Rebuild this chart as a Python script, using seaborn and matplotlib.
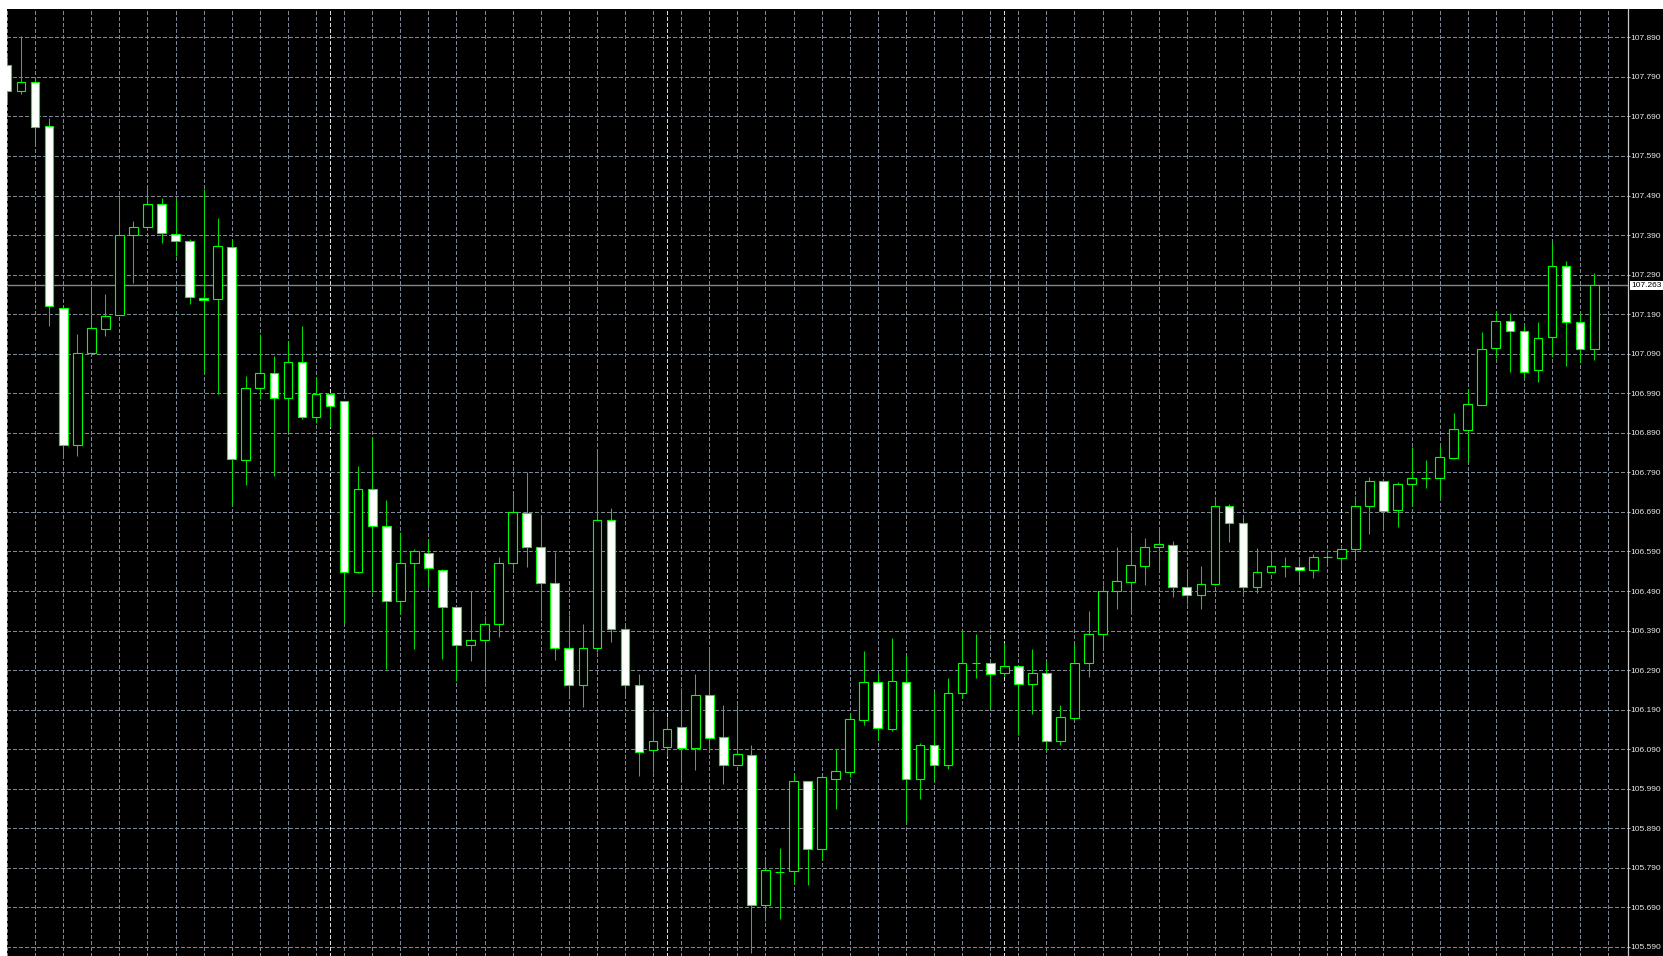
import numpy as np
import matplotlib
matplotlib.use('Agg')
import matplotlib.pyplot as plt
import matplotlib.transforms as mtransforms
import seaborn as sns

# Часовые свечи: open / high / low / close
opens = [107.819, 107.755, 107.776, 107.665, 107.206, 106.860, 107.093, 107.152, 107.189, 107.390,
         107.411, 107.468, 107.393, 107.374, 107.231, 107.228, 107.360, 106.821, 107.003, 107.040,
         106.977, 107.070, 106.929, 106.988, 106.971, 106.539, 106.749, 106.655, 106.464, 106.562,
         106.586, 106.544, 106.449, 106.354, 106.365, 106.406, 106.562, 106.688, 106.602, 106.510,
         106.345, 106.252, 106.345, 106.669, 106.393, 106.252, 106.087, 106.095, 106.147, 106.093,
         106.228, 106.120, 106.051, 106.076, 105.697, 105.780, 105.781, 106.009, 105.838, 106.015,
         106.033, 106.163, 106.259, 106.142, 106.259, 106.015, 106.100, 106.051, 106.232, 106.309,
         106.307, 106.282, 106.301, 106.255, 106.282, 106.110, 106.170, 106.309, 106.381, 106.489,
         106.513, 106.553, 106.601, 106.607, 106.499, 106.480, 106.507, 106.706, 106.662, 106.501,
         106.537, 106.553, 106.550, 106.543, 106.575, 106.573, 106.597, 106.705, 106.769, 106.696,
         106.760, 106.777, 106.777, 106.827, 106.897, 106.960, 107.105, 107.174, 107.147, 107.048,
         107.132, 107.312, 107.171, 107.102]
highs = [107.840, 107.894, 107.781, 107.686, 107.206, 107.139, 107.258, 107.240, 107.492, 107.425,
         107.511, 107.484, 107.481, 107.379, 107.507, 107.433, 107.381, 107.034, 107.139, 107.085,
         107.123, 107.161, 107.030, 106.990, 106.971, 106.807, 106.880, 106.720, 106.638, 106.596,
         106.619, 106.545, 106.449, 106.490, 106.428, 106.577, 106.736, 106.791, 106.675, 106.589,
         106.430, 106.407, 106.850, 106.700, 106.405, 106.280, 106.184, 106.172, 106.244, 106.280,
         106.344, 106.201, 106.201, 106.101, 105.812, 105.840, 106.028, 106.009, 106.019, 106.090,
         106.179, 106.339, 106.284, 106.371, 106.329, 106.107, 106.236, 106.271, 106.390, 106.382,
         106.307, 106.358, 106.301, 106.343, 106.314, 106.201, 106.355, 106.440, 106.505, 106.601,
         106.640, 106.624, 106.646, 106.617, 106.546, 106.554, 106.719, 106.711, 106.677, 106.598,
         106.586, 106.575, 106.569, 106.583, 106.594, 106.607, 106.731, 106.779, 106.772, 106.766,
         106.855, 106.821, 106.857, 106.941, 107.000, 107.146, 107.198, 107.192, 107.161, 107.171,
         107.373, 107.325, 107.192, 107.293]
lows = [107.728, 107.747, 107.623, 107.161, 106.834, 106.832, 107.093, 107.135, 107.188, 107.270,
        107.402, 107.369, 107.337, 107.215, 107.042, 106.988, 106.708, 106.758, 106.975, 106.780,
        106.891, 106.925, 106.916, 106.904, 106.408, 106.535, 106.488, 106.294, 106.433, 106.343,
        106.499, 106.318, 106.263, 106.313, 106.261, 106.373, 106.539, 106.552, 106.418, 106.316,
        106.218, 106.197, 106.337, 106.360, 106.227, 106.023, 106.033, 106.074, 106.010, 106.038,
        106.087, 106.002, 106.049, 105.575, 105.655, 105.661, 105.752, 105.747, 105.809, 105.939,
        106.021, 106.152, 106.114, 106.137, 105.907, 105.964, 106.009, 106.040, 106.219, 106.270,
        106.195, 106.274, 106.126, 106.179, 106.089, 106.100, 106.170, 106.273, 106.345, 106.444,
        106.432, 106.504, 106.543, 106.476, 106.457, 106.444, 106.505, 106.613, 106.484, 106.486,
        106.537, 106.525, 106.507, 106.522, 106.562, 106.543, 106.577, 106.633, 106.650, 106.653,
        106.705, 106.750, 106.724, 106.825, 106.817, 106.960, 107.080, 107.045, 107.030, 107.019,
        107.082, 107.059, 107.066, 107.074]
closes = [107.755, 107.776, 107.662, 107.210, 106.860, 107.093, 107.156, 107.186, 107.390, 107.411,
          107.468, 107.396, 107.374, 107.233, 107.225, 107.363, 106.824, 107.003, 107.040, 106.979,
          107.070, 106.929, 106.988, 106.959, 106.539, 106.749, 106.655, 106.464, 106.562, 106.590,
          106.548, 106.450, 106.353, 106.367, 106.406, 106.562, 106.689, 106.602, 106.510, 106.347,
          106.252, 106.345, 106.669, 106.393, 106.252, 106.084, 106.110, 106.142, 106.093, 106.228,
          106.118, 106.051, 106.077, 105.697, 105.785, 105.780, 106.009, 105.838, 106.019, 106.034,
          106.166, 106.259, 106.144, 106.262, 106.015, 106.100, 106.049, 106.232, 106.307, 106.309,
          106.281, 106.301, 106.255, 106.282, 106.110, 106.172, 106.309, 106.382, 106.490, 106.516,
          106.556, 106.601, 106.608, 106.499, 106.480, 106.508, 106.706, 106.661, 106.501, 106.537,
          106.553, 106.553, 106.543, 106.577, 106.575, 106.597, 106.706, 106.769, 106.693, 106.760,
          106.775, 106.777, 106.829, 106.899, 106.962, 107.102, 107.174, 107.147, 107.045, 107.129,
          107.312, 107.171, 107.102, 107.263]

price_levels = [105.59, 105.69, 105.79, 105.89, 105.99, 106.09, 106.19, 106.29, 106.39, 106.49,
                106.59, 106.69, 106.79, 106.89, 106.99, 107.09, 107.19, 107.29, 107.39, 107.49,
                107.59, 107.69, 107.79, 107.89]
day_breaks = [23, 47, 71, 95]
last_price = 107.263

W, H = 1663, 956

sns.set_theme(style='dark', rc={'axes.facecolor': 'black', 'figure.facecolor': 'white',
                                'lines.scale_dashes': False})
plt.rcParams['font.family'] = ['Liberation Sans', 'DejaVu Sans']

fig = plt.figure(figsize=(W / 100, H / 100), dpi=100)
# чёрный фон под графиком и шкалой цен
fig.add_artist(plt.Rectangle((7 / W, 0), 1 - 7 / W, 947 / H, transform=fig.transFigure,
                             facecolor='black', edgecolor='none', zorder=-5))
ax = fig.add_axes([7 / W, 0, 1621 / W, 947 / H])
ax.set_facecolor('black')

o = np.array(opens)
h = np.array(highs)
l = np.array(lows)
c = np.array(closes)
x = np.arange(len(o))
bull = c >= o

# тени
ax.vlines(x, l, h, color='#00dd00', linewidth=0.75, zorder=3)
# тела: рост - чёрные, падение - белые
ax.bar(x, np.abs(c - o), bottom=np.minimum(o, c), width=0.62,
       color=np.where(bull, 'black', 'white'), edgecolor='#00ff00', linewidth=0.8, zorder=4)

# линия текущей цены
ax.axhline(last_price, color='#7d858d', linewidth=1.0, zorder=2)

# сетка
dash = (0, (2.2, 1.5))
ax.set_xticks(np.arange(0, 116, 2))
ax.set_yticks(price_levels)
ax.grid(True, color='#7c8894', linestyle=dash, linewidth=0.72, antialiased=False)
for b in day_breaks:
    ax.axvline(b, color='#dcdcdc', linestyle=dash, linewidth=0.72, antialiased=False, zorder=1)

ax.set_xlim(0, 115.41)
ax.set_ylim(105.5672, 107.9616)

ax.yaxis.tick_right()
ax.set_yticklabels([f'{p:.3f}' for p in price_levels])
ax.tick_params(axis='x', length=0, labelbottom=False)
ax.tick_params(axis='y', direction='out', length=1.5, width=0.7, color='#c8c8c8',
               labelcolor='#e8e8e8', labelsize=6, pad=0.5)
for side in ['left', 'top', 'bottom']:
    ax.spines[side].set_visible(False)
ax.spines['right'].set_color('#c8c8c8')
ax.spines['right'].set_linewidth(0.9)

# метка текущей цены
trans = mtransforms.blended_transform_factory(ax.transAxes, ax.transData)
ax.text(1 + 3 / 1621, last_price, f'{last_price:.3f}', transform=trans, ha='left', va='center',
        color='black', fontsize=6, clip_on=False, zorder=10,
        bbox=dict(boxstyle='square,pad=0.15', facecolor='white', edgecolor='none'))

fig.savefig('out.png', dpi=100)
